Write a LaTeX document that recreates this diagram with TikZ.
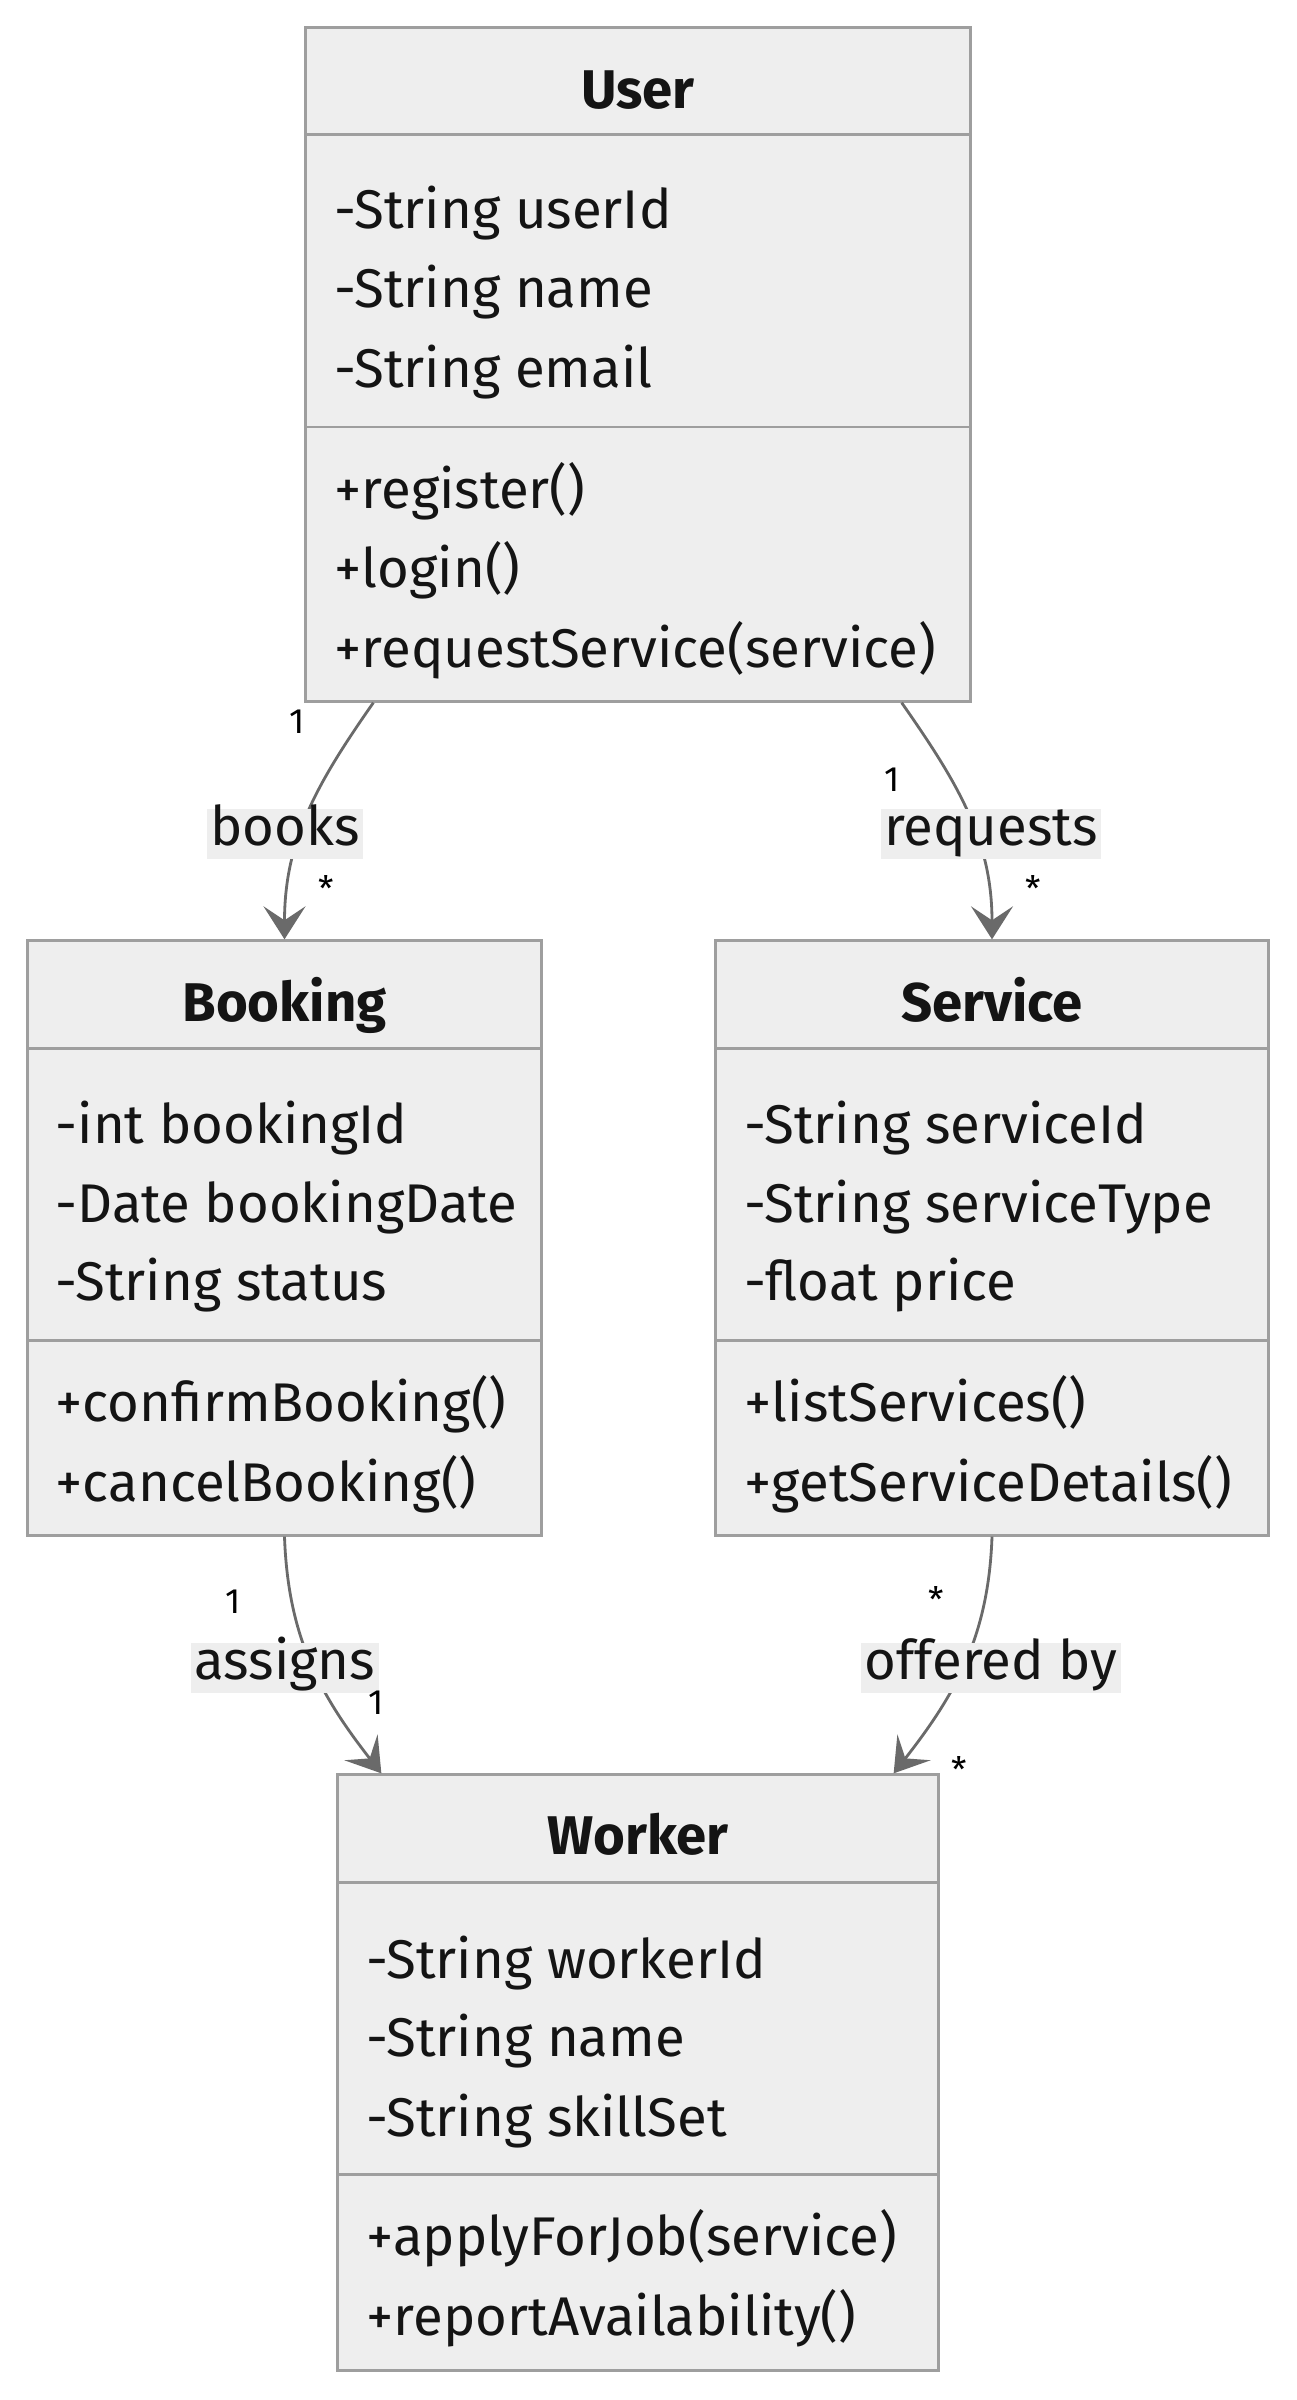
\documentclass[tikz,border=0pt]{standalone}
\usepackage{fontspec}
\setmainfont{Fira Sans}
\usetikzlibrary{arrows.meta,positioning}
\definecolor{boxfill}{HTML}{EEEEEE}
\definecolor{boxline}{HTML}{9E9E9E}
\definecolor{edgeline}{HTML}{6A6A6A}
\definecolor{txtcol}{HTML}{141414}
\tikzset{
  classbox/.style={ draw=boxline, fill=boxfill, line width=0.85pt, inner sep=0pt }
}
\tikzset{
  divider/.style={ draw=boxline, line width=0.85pt }
}
\tikzset{
  title/.style={ font=\fontsize{15.5}{18}\selectfont\bfseries, text=txtcol, inner sep=0pt,
    text height=1.5ex, text depth=0.3ex }
}
\tikzset{
  member/.style={ font=\fontsize{15.5}{18}\selectfont, text=txtcol, anchor=west, inner sep=0pt,
    text height=1.5ex, text depth=0.3ex }
}
\tikzset{
  assoc/.style={ draw=edgeline, line width=0.8pt,
    -{Stealth[length=0.33cm, width=0.42cm, inset=0.14cm, fill=edgeline]} }
}
\tikzset{
  rolelabel/.style={ font=\fontsize{15.5}{18}\selectfont, text=txtcol, fill=boxfill,
    inner xsep=1pt, inner ysep=0.08cm, text height=1.5ex, text depth=0.3ex }
}
\tikzset{
  mult/.style={ font=\fontsize{10}{12}\selectfont, text=black, inner sep=0pt }
}

\begin{document}
\begin{tikzpicture}[x=0.01cm, y=-0.01cm]
  \useasboundingbox (0,0) rectangle (1296,2400);

  % User
  \node[classbox, minimum width=6.64cm, minimum height=6.735cm] (user) at (638, 364.25) {};
  \draw[divider] (306, 134.6) -- (970, 134.6);
  \draw[divider] (306, 427) -- (970, 427);
  \node[title] (userT) at (638, 97) {User};
  \node[member] (userA1) at (334, 217) {-String userId};
  \node[member] (userA2) at (334, 296) {-String name};
  \node[member] (userA3) at (334, 376) {-String email};
  \node[member] (userM1) at (334, 497) {+register()};
  \node[member] (userM2) at (334, 576) {+login()};
  \node[member] (userM3) at (334, 656) {+requestService(service)};

  % Booking
  \node[classbox, minimum width=5.14cm, minimum height=5.94cm] (booking) at (284.5, 1238) {};
  \draw[divider] (27.5, 1048) -- (541.5, 1048);
  \draw[divider] (27.5, 1340) -- (541.5, 1340);
  \node[title] (bookingT) at (284.5, 1010) {Booking};
  \node[member] (bookingA1) at (55, 1132) {-int bookingId};
  \node[member] (bookingA2) at (55, 1211) {-Date bookingDate};
  \node[member] (bookingA3) at (55, 1289) {-String status};
  \node[member] (bookingM1) at (55, 1410) {+confirmBooking()};
  \node[member] (bookingM2) at (55, 1490) {+cancelBooking()};

  % Service
  \node[classbox, minimum width=5.525cm, minimum height=5.94cm] (service) at (992, 1238) {};
  \draw[divider] (716, 1048) -- (1268.5, 1048);
  \draw[divider] (716, 1340) -- (1268.5, 1340);
  \node[title] (serviceT) at (992, 1010) {Service};
  \node[member] (serviceA1) at (744, 1132) {-String serviceId};
  \node[member] (serviceA2) at (744, 1211) {-String serviceType};
  \node[member] (serviceA3) at (744, 1289) {-float price};
  \node[member] (serviceM1) at (744, 1410) {+listServices()};
  \node[member] (serviceM2) at (744, 1490) {+getServiceDetails()};

  % Worker
  \node[classbox, minimum width=6cm, minimum height=5.95cm] (worker) at (638, 2072.5) {};
  \draw[divider] (338, 1882) -- (938, 1882);
  \draw[divider] (338, 2174) -- (938, 2174);
  \node[title] (workerT) at (638, 1843) {Worker};
  \node[member] (workerA1) at (366, 1967) {-String workerId};
  \node[member] (workerA2) at (366, 2045) {-String name};
  \node[member] (workerA3) at (366, 2125) {-String skillSet};
  \node[member] (workerM1) at (366, 2244) {+applyForJob(service)};
  \node[member] (workerM2) at (366, 2324) {+reportAvailability()};

  % associations
  \draw[assoc] ([xshift=0.69cm]user.south west) to[out=-125, in=90] (booking.north);
  \draw[assoc] ([xshift=-0.70cm]user.south east) to[out=-55, in=90] (service.north);
  \draw[assoc] (booking.south) to[out=-88, in=128] ([xshift=0.45cm]worker.north west);
  \draw[assoc] (service.south) to[out=-92, in=52] ([xshift=-0.46cm]worker.north east);

  \node[rolelabel] (booksL) at (285, 834) {books};
  \node[rolelabel] (requestsL) at (991, 834) {requests};
  \node[rolelabel] (assignsL) at (285, 1668) {assigns};
  \node[rolelabel] (offeredL) at (991, 1668) {offered by};

  \node[mult] (booksFrom) at (297, 722) {1};
  \node[mult] (booksTo) at (326, 888) {*};
  \node[mult] (requestsFrom) at (892, 780) {1};
  \node[mult] (requestsTo) at (1033, 888) {*};
  \node[mult] (assignsFrom) at (233, 1602) {1};
  \node[mult] (assignsTo) at (376, 1703) {1};
  \node[mult] (offeredFrom) at (936, 1599) {*};
  \node[mult] (offeredTo) at (959, 1769) {*};
\end{tikzpicture}
\end{document}
